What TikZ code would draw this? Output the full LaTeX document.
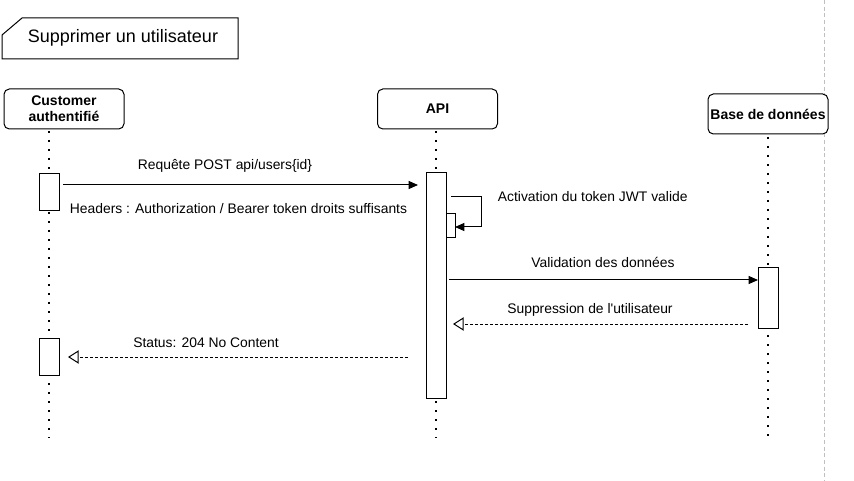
\documentclass[tikz,border=0pt]{standalone}
\usepackage{fontspec}
\setmainfont{Liberation Sans}
\usetikzlibrary{arrows.meta}
\begin{document}
\begin{tikzpicture}[x=0.75pt, y=-0.75pt, line width=0.75pt, font=\fontsize{10.4}{12}\selectfont,
	actor/.style={draw, rounded corners=4pt, fill=white, minimum width=90pt, minimum height=30pt, inner sep=1pt, align=center, font=\bfseries\fontsize{10.5}{12}\selectfont},
	act/.style={draw, fill=white, minimum width=15pt, inner sep=0pt, outer sep=0pt},
	life/.style={line width=1.5pt, dash pattern=on 1.5pt off 5.25pt},
	msg/.style={-{Triangle[length=7pt,width=6pt]}},
	ret/.style={dash pattern=on 2.25pt off 1.5pt, -{Triangle[open,length=8pt,width=10pt]}}]
	\useasboundingbox (0,0) rectangle (854,481);
	% frame
	\draw[gray!50, line width=0.6pt, dash pattern=on 3pt off 2pt] (824,0) -- (824,481);
	\draw (2,35) -- (22,18) -- (238,18) -- (238,59) -- (2,59) -- cycle;
	\node (title) at (123,38) {\fontsize{13.5}{15}\selectfont Supprimer un utilisateur};
	% participants
	\node[actor] (cust) at (64,109) {Customer\\authentifié};
	\node[actor] (api) at (437.5,109) {API};
	\node[actor] (bdd) at (768,114) {Base de données};
	\coordinate (c0) at (49,131);
	\coordinate (c1) at (49,438);
	\coordinate (a0) at (436,131);
	\coordinate (a1) at (436,438);
	\coordinate (b0) at (768,137);
	\coordinate (b1) at (768,438);
	\draw[life] (c0) -- (c1);
	\draw[life] (a0) -- (a1);
	\draw[life] (b0) -- (b1);
	% activations
	\node[act, minimum height=27.75pt] (ca1) at (49,192.5) {};
	\node[act, minimum height=27.75pt] (ca2) at (49,356.5) {};
	\node[act, minimum height=168.75pt] (aa1) at (436,285.5) {};
	\node[act, minimum width=6.75pt, minimum height=18pt] (aa2) at (450.5,226) {};
	\node[act, minimum height=45pt] (ba1) at (768,298) {};
	% messages
	\coordinate (m1s) at (63,185);
	\coordinate (m1e) at (418,185);
	\draw[msg] (m1s) -- (m1e);
	\node (l1) at (225,166) {Requête POST api/users\{id\}};
	\node (l1b) at (238.5,209) {Headers : Authorization / Bearer token droits suffisants};
	\coordinate (m2s) at (451,197);
	\coordinate (m2e) at (455,227);
	\draw[msg] (m2s) -- (481,197) -- (481,227) -- (m2e);
	\node[anchor=west] (l2) at (493,197) {Activation du token JWT valide};
	\coordinate (m3s) at (449,280);
	\draw[msg] (m3s) -- (ba1.west |- m3s);
	\node (l3) at (603,262) {Validation des données};
	\coordinate (m4s) at (748,324);
	\coordinate (m4e) at (453,324);
	\draw[ret] (m4s) -- (m4e);
	\node (l4) at (590,310) {Suppression de l\textquotesingle utilisateur};
	\coordinate (m5s) at (408,357);
	\coordinate (m5e) at (68,357);
	\draw[ret] (m5s) -- (m5e);
	\node (l5) at (206,343) {Status: 204 No Content};
\end{tikzpicture}
\end{document}
